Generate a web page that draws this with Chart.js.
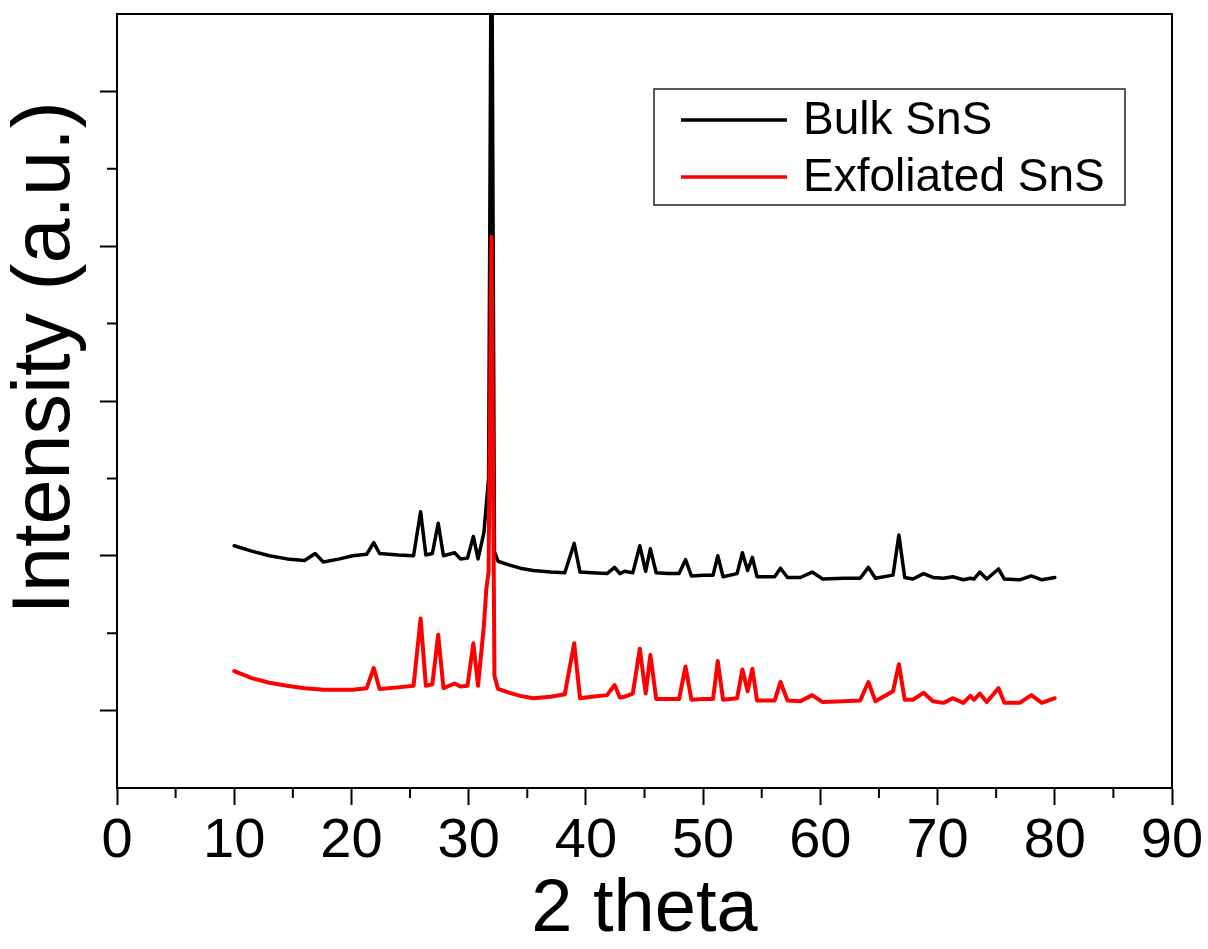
<!DOCTYPE html>
<html>
<head>
<meta charset="utf-8">
<script src="https://cdn.jsdelivr.net/npm/chart.js@4"></script>
<style>
    body { margin: 0; background: #fff; }
    #wrap { width: 1208px; height: 949px; position: relative; }
</style>
</head>
<body>
<div id="wrap"><canvas id="xrdChart"></canvas></div>
<script>
// 2 theta positions, shared by both patterns
const twoTheta = [
    10.0, 11.5, 13.0, 14.5, 16.0, 16.9, 17.6, 19.0, 20.1, 21.3, 21.9, 22.4, 24.0, 25.3, 25.9, 26.35,
    26.9, 27.4, 27.85, 28.8, 29.3, 29.9, 30.4, 30.8, 31.3, 31.5, 31.7, 31.95, 32.2, 32.5, 33.5, 34.4,
    35.5, 37.0, 38.2, 39.0, 39.5, 40.5, 41.8, 42.45, 42.9, 43.3, 44.0, 44.6, 45.1, 45.5, 46.0, 47.0,
    47.95, 48.5, 49.0, 50.0, 50.85, 51.25, 51.7, 52.9, 53.35, 53.8, 54.2, 54.6, 56.1, 56.6, 57.2, 58.3,
    59.3, 60.2, 62.0, 63.4, 64.1, 64.7, 66.2, 66.7, 67.2, 67.9, 68.8, 69.6, 70.5, 71.3, 72.2, 72.8,
    73.1, 73.6, 74.2, 75.2, 75.7, 77.0, 78.0, 78.9, 80.0
];
const bulkSnS = [
    3.13, 3.06, 3.00, 2.96, 2.94, 3.03, 2.92, 2.96, 3.00, 3.02, 3.17, 3.03, 3.01, 3.00, 3.57, 3.01,
    3.03, 3.42, 3.00, 3.04, 2.96, 2.97, 3.25, 2.96, 3.30, 3.65, 4.00, 12.0, 3.05, 2.93, 2.88, 2.84,
    2.81, 2.79, 2.78, 3.16, 2.79, 2.78, 2.77, 2.85, 2.77, 2.80, 2.78, 3.13, 2.80, 3.09, 2.78, 2.77,
    2.77, 2.95, 2.74, 2.75, 2.75, 3.00, 2.73, 2.77, 3.04, 2.81, 2.98, 2.73, 2.73, 2.84, 2.72, 2.72,
    2.79, 2.70, 2.71, 2.71, 2.85, 2.71, 2.75, 3.27, 2.72, 2.70, 2.77, 2.72, 2.71, 2.73, 2.69, 2.71,
    2.70, 2.79, 2.70, 2.83, 2.70, 2.69, 2.74, 2.69, 2.72
];
const exfoliatedSnS = [
    1.51, 1.42, 1.36, 1.32, 1.29, 1.28, 1.27, 1.27, 1.27, 1.29, 1.55, 1.28, 1.30, 1.32, 2.19, 1.32,
    1.34, 1.98, 1.29, 1.35, 1.31, 1.32, 1.87, 1.32, 2.10, 2.56, 2.80, 7.12, 1.45, 1.28, 1.23, 1.19,
    1.16, 1.18, 1.21, 1.87, 1.16, 1.18, 1.20, 1.33, 1.17, 1.18, 1.22, 1.80, 1.22, 1.72, 1.15, 1.15,
    1.15, 1.57, 1.14, 1.15, 1.15, 1.64, 1.14, 1.16, 1.53, 1.25, 1.54, 1.13, 1.13, 1.37, 1.13, 1.12,
    1.20, 1.11, 1.12, 1.13, 1.37, 1.12, 1.25, 1.60, 1.14, 1.14, 1.23, 1.12, 1.10, 1.16, 1.10, 1.19,
    1.14, 1.22, 1.11, 1.29, 1.10, 1.10, 1.20, 1.10, 1.16
];
const xMajorTicks = [0, 10, 20, 30, 40, 50, 60, 70, 80, 90];
const xMinorTicks = [5, 15, 25, 35, 45, 55, 65, 75, 85];
const yMajorTicks = [1, 3, 5, 7, 9];
const yMinorTicks = [2, 4, 6, 8];
const seriesNames = ['Bulk SnS', 'Exfoliated SnS'];
const seriesColors = ['#000000', '#ff0000'];

const FONT = "'Liberation Sans', Arial, sans-serif";

const toPoints = ys => twoTheta.map((x, i) => ({ x: x, y: ys[i] }));

// frame, minor ticks, y title and boxed legend
const extras = {
    id: 'extras',
    afterDraw(chart) {
        const ctx = chart.ctx;
        const area = chart.chartArea;
        const xs = chart.scales.x;
        const ys = chart.scales.y;
        ctx.save();
        ctx.strokeStyle = '#000';
        ctx.lineWidth = 2;
        ctx.beginPath();
        ctx.moveTo(area.left, area.top);
        ctx.lineTo(area.right, area.top);
        ctx.lineTo(area.right, area.bottom);
        ctx.stroke();

        ctx.beginPath();
        xMinorTicks.forEach(v => {
            const px = xs.getPixelForValue(v);
            ctx.moveTo(px, area.bottom);
            ctx.lineTo(px, area.bottom + 10);
        });
        yMinorTicks.forEach(v => {
            const py = ys.getPixelForValue(v);
            ctx.moveTo(area.left, py);
            ctx.lineTo(area.left - 10, py);
        });
        ctx.stroke();

        // y axis title
        ctx.save();
        ctx.translate(69, 358);
        ctx.rotate(-Math.PI / 2);
        ctx.fillStyle = '#000';
        ctx.font = '81px ' + FONT;
        ctx.textAlign = 'center';
        ctx.textBaseline = 'alphabetic';
        ctx.fillText('Intensity (a.u.)', 0, 0);
        ctx.restore();

        // legend
        ctx.lineWidth = 1.5;
        ctx.strokeStyle = '#222';
        ctx.strokeRect(654, 89, 471, 116);
        ctx.font = '46px ' + FONT;
        ctx.textAlign = 'left';
        ctx.textBaseline = 'middle';
        const rows = [120, 177];
        seriesNames.forEach((name, i) => {
            ctx.strokeStyle = seriesColors[i];
            ctx.lineWidth = 3.5;
            ctx.beginPath();
            ctx.moveTo(681, rows[i]);
            ctx.lineTo(787, rows[i]);
            ctx.stroke();
            ctx.fillStyle = '#000';
            ctx.fillText(name, 803, rows[i] + 1);
        });
        ctx.restore();
    }
};

const ctx = document.getElementById('xrdChart').getContext('2d');
new Chart(ctx, {
    type: 'line',
    data: {
        datasets: [
            {
                label: seriesNames[0],
                data: toPoints(bulkSnS),
                borderColor: seriesColors[0],
                borderWidth: 3.5,
                borderJoinStyle: 'round',
                borderCapStyle: 'round',
                pointRadius: 0,
                tension: 0,
                order: 1
            },
            {
                label: seriesNames[1],
                data: toPoints(exfoliatedSnS),
                borderColor: seriesColors[1],
                borderWidth: 4,
                borderJoinStyle: 'round',
                borderCapStyle: 'round',
                pointRadius: 0,
                tension: 0,
                order: 0
            }
        ]
    },
    options: {
        responsive: true,
        maintainAspectRatio: false,
        animation: false,
        layout: { padding: { top: 14, right: 36, left: 0, bottom: 0 } },
        plugins: {
            legend: { display: false },
            tooltip: { enabled: false }
        },
        scales: {
            x: {
                type: 'linear',
                min: 0,
                max: 90,
                afterBuildTicks: s => { s.ticks = xMajorTicks.map(v => ({ value: v })); },
                afterFit: s => { s.height = 161; },
                border: { color: '#000', width: 2 },
                grid: { drawOnChartArea: false, tickLength: 17, tickWidth: 2, tickColor: '#000' },
                ticks: { color: '#000', font: { family: FONT, size: 56 }, padding: 3, maxRotation: 0 },
                title: {
                    display: true,
                    text: '2 theta',
                    color: '#000',
                    font: { family: FONT, size: 74, lineHeight: 1 },
                    padding: { top: 0, bottom: 1 }
                }
            },
            y: {
                type: 'linear',
                min: 0,
                max: 10,
                afterBuildTicks: s => { s.ticks = yMajorTicks.map(v => ({ value: v })); },
                afterFit: s => { s.width = 117; },
                border: { color: '#000', width: 2 },
                grid: { drawOnChartArea: false, tickLength: 17, tickWidth: 2, tickColor: '#000' },
                ticks: { display: false }
            }
        }
    },
    plugins: [extras]
});
</script>
</body>
</html>
